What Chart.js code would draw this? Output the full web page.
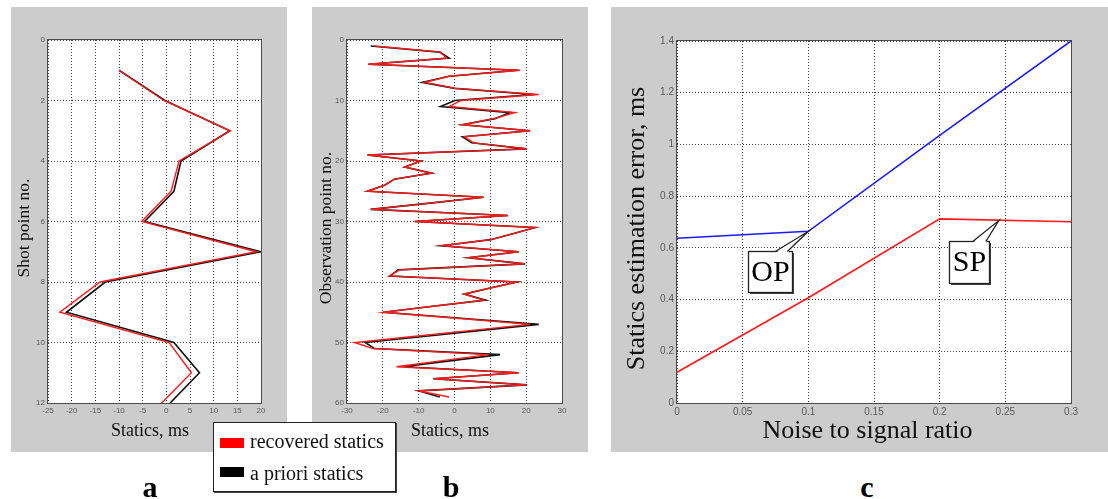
<!DOCTYPE html>
<html>
<head>
<meta charset="utf-8">
<script src="https://cdn.jsdelivr.net/npm/chart.js@4.4.0/dist/chart.umd.min.js"></script>
<style>
html,body{margin:0;padding:0;background:#fff;width:1108px;height:499px;overflow:hidden;}
.panel{position:absolute;background:#cccccc;}
.panel canvas{display:block;}
.lbl{position:absolute;width:40px;text-align:center;font-family:"Liberation Serif","Times New Roman",serif;font-weight:bold;font-size:30px;line-height:30px;color:#000;}
#legend{position:absolute;left:213px;top:422px;width:183px;height:70px;box-sizing:border-box;background:#fff;border:1px solid #222;box-shadow:1px 1px 0 #444;font-family:"Liberation Serif","Times New Roman",serif;font-size:20px;color:#111;}
#legend .sw{position:absolute;left:6px;width:24px;height:10px;}
#legend .tx{position:absolute;left:36px;line-height:20px;white-space:nowrap;}
</style>
</head>
<body>
<div class="panel" style="left:11px;top:7px;width:276px;height:445px;"><canvas id="chartA" width="276" height="445"></canvas></div>
<div class="panel" style="left:312px;top:7px;width:276px;height:445px;"><canvas id="chartB" width="276" height="445"></canvas></div>
<div class="panel" style="left:611px;top:7px;width:497px;height:445px;"><canvas id="chartC" width="497" height="445"></canvas></div>

<div id="legend">
  <div class="sw" style="top:15px;background:#ff0000;"></div>
  <div class="tx" style="top:8px;">recovered statics</div>
  <div class="sw" style="top:44px;background:#000;"></div>
  <div class="tx" style="top:40px;">a priori statics</div>
</div>

<div class="lbl" style="left:130px;top:472px;">a</div>
<div class="lbl" style="left:431px;top:472px;">b</div>
<div class="lbl" style="left:847px;top:472px;">c</div>

<script>
// ---------------- DATA ----------------
const shotPoints    = [1, 2, 3, 4, 5, 6, 7, 8, 9, 10, 11, 12];
const shotRecovered = [-10, -0.5, 13.5, 2.7, 1.0, -5.2, 19.0, -14.0, -22.5, 0.6, 5.3, -1.0];
const shotApriori   = [-10, -0.3, 13.4, 3.1, 1.6, -4.6, 20.0, -12.9, -21.1, 1.6, 7.0, 0.8];

const obsPoints = [1,2,3,4,5,6,7,8,9,10,11,12,13,14,15,16,17,18,19,20,
                   21,22,23,24,25,26,27,28,29,30,31,32,33,34,35,36,37,38,39,40,
                   41,42,43,44,45,46,47,48,49,50,51,52,53,54,55,56,57,58,59];
const obsRecovered = [-22.3, -4.0, -2.2, -24.1, 18.3, -1.5, -8.3, 0.3, 23.5, 1.8,
                      -1.5, 16.9, 10.9, 2.2, 21.1, 2.8, 5.3, 20.2, -24.3, -9.4,
                      -13.9, -6.4, -16.8, -19.5, -24.3, 8.1, -7.5, -23.4, 14.9, -11.1,
                      22.5, 16.5, 10.1, -3.6, 17.9, 3.9, 19.7, -15.3, -18.2, 17.4,
                      10.0, 2.7, 8.1, -6.0, -19.9, 0.6, 21.1, 4.8, -11.6, -27.9,
                      -22.7, 9.5, -3.4, -16.2, 17.9, -5.9, 20.2, -9.9, -1.5];
const obsApriori   = [-23.4, -4.1, -1.5, -24.0, 17.7, -1.5, -9.0, 0.1, 22.1, 0.1,
                      -3.9, 15.5, 11.3, 2.2, 21.1, 2.2, 4.8, 20.2, -24.3, -9.4,
                      -13.9, -6.4, -16.8, -19.5, -24.3, 8.1, -7.5, -23.4, 14.9, -11.1,
                      22.5, 16.5, 10.1, -3.6, 17.9, 3.9, 19.7, -15.7, -18.0, 17.4,
                      10.0, 2.7, 8.7, -6.0, -19.9, 1.8, 23.5, 7.4, -8.7, -24.9,
                      -22.3, 12.7, -0.8, -14.3, 17.9, -5.9, 20.2, -10.0, -4.1];

const noiseRatio = [0, 0.1, 0.2, 0.3];
const errorOP    = [0.637, 0.664, 1.035, 1.4];
const errorSP    = [0.119, 0.407, 0.712, 0.701];

const calloutLabels = ['OP', 'SP'];
const calloutX      = [0.1, 0.245];
const calloutY      = [0.664, 0.7055];

const ticksShotX  = [-25, -20, -15, -10, -5, 0, 5, 10, 15, 20];
const ticksShotY  = [0, 2, 4, 6, 8, 10, 12];
const ticksObsX   = [-30, -20, -10, 0, 10, 20, 30];
const ticksObsY   = [0, 10, 20, 30, 40, 50, 60];
const ticksNoiseX = [0, 0.05, 0.1, 0.15, 0.2, 0.25, 0.3];
const ticksErrorY = [0, 0.2, 0.4, 0.6, 0.8, 1, 1.2, 1.4];

// ---------------- HELPERS ----------------
const serif = '"Liberation Serif", "Times New Roman", serif';
const sans  = '"Liberation Sans", Arial, sans-serif';

function pairs(xs, ys) { return xs.map((v, i) => ({x: v, y: ys[i]})); }
function fmt(v) { return String(Number(Number(v).toFixed(6))); }

function axis(o) {
  return {
    type: 'linear',
    min: o.ticks[0],
    max: o.ticks[o.ticks.length - 1],
    reverse: !!o.reverse,
    afterBuildTicks: s => { s.ticks = o.ticks.map(v => ({value: v})); },
    afterFit: s => { if (o.horizontal) s.height = o.size; else s.width = o.size; },
    grid: {color: '#3c3c3c', lineWidth: 1, drawTicks: false},
    border: {display: false, dash: [1, 2]},
    ticks: {color: '#5a5a5a', font: {family: sans, size: o.tickSize}, padding: 3,
            callback: fmt, autoSkip: false, maxRotation: 0, minRotation: 0},
    title: {display: true, text: o.title + ' '.repeat(o.pad || 0), color: '#111',
            font: {family: serif, size: o.titleSize, lineHeight: 1.2},
            padding: {top: o.pt || 0, bottom: o.pb || 0}}
  };
}

const framePlugin = {
  id: 'frame',
  beforeDraw(chart) {
    const {ctx, chartArea: a} = chart;
    ctx.save();
    ctx.fillStyle = '#ffffff';
    ctx.fillRect(a.left, a.top, a.right - a.left, a.bottom - a.top);
    ctx.restore();
  },
  afterDraw(chart) {
    const {ctx, chartArea: a} = chart;
    ctx.save();
    ctx.strokeStyle = '#4a4a4a';
    ctx.lineWidth = 1;
    ctx.strokeRect(Math.round(a.left) - 0.5, Math.round(a.top) - 0.5,
                   Math.round(a.right - a.left) + 1, Math.round(a.bottom - a.top) + 1);
    ctx.restore();
  }
};

const calloutGeom = [
  {dx: -60, dy: 20, w: 44, h: 41, t1: -33, t2: -21},
  {dx: -50, dy: 20, w: 40, h: 42, t1: -26, t2: -13}
];

const calloutPlugin = {
  id: 'callouts',
  afterDraw(chart) {
    const {ctx} = chart;
    const xs = chart.scales.x, ys = chart.scales.y;
    calloutLabels.forEach((label, i) => {
      const tx = xs.getPixelForValue(calloutX[i]);
      const ty = ys.getPixelForValue(calloutY[i]);
      const g = calloutGeom[i];
      const bx = Math.round(tx + g.dx) + 0.5, by = Math.round(ty + g.dy) + 0.5;
      ctx.save();
      ctx.fillStyle = '#444';
      ctx.fillRect(bx + 1.5, by + 1.5, g.w, g.h);
      ctx.fillStyle = '#fff';
      ctx.fillRect(bx, by, g.w, g.h);
      ctx.strokeStyle = '#222';
      ctx.lineWidth = 1.3;
      ctx.strokeRect(bx, by, g.w, g.h);
      ctx.beginPath();
      ctx.moveTo(tx + g.t1, by + 1.5);
      ctx.lineTo(tx, ty);
      ctx.lineTo(tx + g.t2, by + 1.5);
      ctx.closePath();
      ctx.fill();
      ctx.beginPath();
      ctx.moveTo(tx + g.t1, by);
      ctx.lineTo(tx, ty);
      ctx.lineTo(tx + g.t2, by);
      ctx.stroke();
      ctx.fillStyle = '#000';
      ctx.font = '30px ' + serif;
      ctx.textAlign = 'center';
      ctx.textBaseline = 'middle';
      ctx.fillText(label, bx + g.w / 2, by + g.h / 2 + 1);
      ctx.restore();
    });
  }
};

function lineDs(label, data, color, w) {
  return {label, data, showLine: true, borderColor: color, backgroundColor: color,
          borderWidth: w, pointRadius: 0, tension: 0, fill: false};
}

const common = {
  responsive: false,
  animation: false,
  events: [],
  plugins: {legend: {display: false}, tooltip: {enabled: false}}
};

// ---------------- CHART A ----------------
new Chart(document.getElementById('chartA'), {
  type: 'scatter',
  data: {datasets: [
    lineDs('recovered statics', pairs(shotRecovered, shotPoints), '#ff1a1a', 1.4),
    lineDs('a priori statics', pairs(shotApriori, shotPoints), '#111111', 1.6)
  ]},
  options: Object.assign({}, common, {
    layout: {padding: {top: 33, right: 26, left: 0, bottom: 0}},
    scales: {
      x: axis({ticks: ticksShotX, horizontal: true, size: 49, tickSize: 8,
               title: 'Statics, ms', titleSize: 18, pb: 10, pad: 2}),
      y: axis({ticks: ticksShotY, reverse: true, size: 37, tickSize: 8,
               title: 'Shot point no.', titleSize: 17.5, pt: 3, pad: 3})
    }
  }),
  plugins: [framePlugin]
});

// ---------------- CHART B ----------------
new Chart(document.getElementById('chartB'), {
  type: 'scatter',
  data: {datasets: [
    lineDs('recovered statics', pairs(obsRecovered, obsPoints), '#ff1a1a', 1.4),
    lineDs('a priori statics', pairs(obsApriori, obsPoints), '#111111', 1.6)
  ]},
  options: Object.assign({}, common, {
    layout: {padding: {top: 33, right: 26, left: 0, bottom: 0}},
    scales: {
      x: axis({ticks: ticksObsX, horizontal: true, size: 49, tickSize: 8,
               title: 'Statics, ms', titleSize: 18, pb: 10, pad: 2}),
      y: axis({ticks: ticksObsY, reverse: true, size: 35, tickSize: 8,
               title: 'Observation point no.', titleSize: 17.5, pt: 4, pad: 3})
    }
  }),
  plugins: [framePlugin]
});

// ---------------- CHART C ----------------
new Chart(document.getElementById('chartC'), {
  type: 'scatter',
  data: {datasets: [
    lineDs('OP', pairs(noiseRatio, errorOP), '#1a1aff', 1.6),
    lineDs('SP', pairs(noiseRatio, errorSP), '#ff1a1a', 1.6)
  ]},
  options: Object.assign({}, common, {
    layout: {padding: {top: 34, right: 37, left: 0, bottom: 0}},
    scales: {
      x: axis({ticks: ticksNoiseX, horizontal: true, size: 49, tickSize: 10,
               title: 'Noise to signal ratio', titleSize: 26, pb: 5, pad: 2}),
      y: axis({ticks: ticksErrorY, size: 66, tickSize: 10,
               title: 'Statics estimation error, ms', titleSize: 26, pt: 11, pad: 2})
    }
  }),
  plugins: [framePlugin, calloutPlugin]
});
</script>
</body>
</html>
